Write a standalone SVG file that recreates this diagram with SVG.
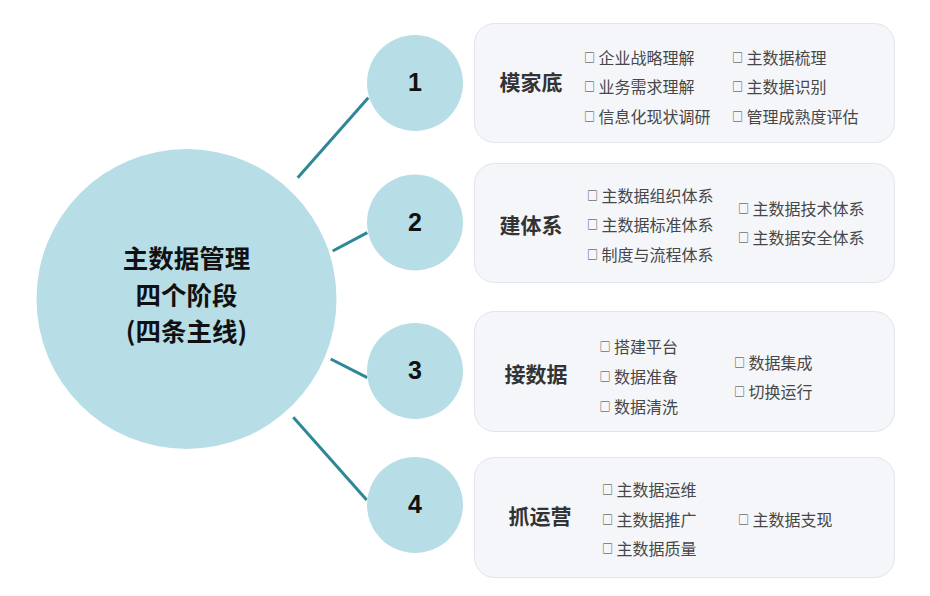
<svg xmlns="http://www.w3.org/2000/svg" width="930" height="596" viewBox="0 0 930 596">
<style>
text{font-family:"Noto Sans CJK SC","Liberation Sans",sans-serif;dominant-baseline:central}
.hub{fill:#b7dde7}
.num{font-family:"Liberation Sans","Noto Sans CJK SC",sans-serif;font-weight:bold;font-size:25px;fill:#111;text-anchor:middle}
.main{font-weight:bold;font-size:25.5px;fill:#111;text-anchor:middle}
.card{fill:#f5f6fa;stroke:#e1e4ec;stroke-width:1}
.title{font-weight:bold;font-size:21px;fill:#333;text-anchor:middle}
.item{font-size:16px;fill:#474747}
.b{font-size:11px;fill:#333}
.con{stroke:#2e8796;stroke-width:3;fill:none}
</style>
<g id="connectors">
<line class="con" x1="297.7" y1="177.7" x2="368.3" y2="97.7"/>
<line class="con" x1="332.7" y1="251" x2="367.3" y2="232.7"/>
<line class="con" x1="330.7" y1="359" x2="367.3" y2="377.7"/>
<line class="con" x1="293.3" y1="417.3" x2="366.7" y2="500"/>
</g>
<g id="center">
<circle class="hub" cx="186.5" cy="299" r="150"/>
<text class="main" x="186.5" y="256">主数据管理</text>
<text class="main" x="186.5" y="293">四个阶段</text>
<text class="main" x="186.5" y="329">(四条主线)</text>
</g>
<g id="n1"><circle class="hub" cx="415" cy="83" r="48"/><text class="num" x="415" y="82">1</text></g>
<g id="n2"><circle class="hub" cx="415" cy="222.5" r="48"/><text class="num" x="415" y="221.5">2</text></g>
<g id="n3"><circle class="hub" cx="415" cy="371" r="48"/><text class="num" x="415" y="370">3</text></g>
<g id="n4"><circle class="hub" cx="415" cy="505" r="48"/><text class="num" x="415" y="504">4</text></g>
<g id="card1">
<rect class="card" x="474.5" y="23.5" width="420" height="119" rx="20"/>
<text class="title" x="531" y="81">模家底</text>
<text class="item" x="584" y="57"><tspan class="b">□</tspan> 企业战略理解</text>
<text class="item" x="584" y="86"><tspan class="b">□</tspan> 业务需求理解</text>
<text class="item" x="584" y="116"><tspan class="b">□</tspan> 信息化现状调研</text>
<text class="item" x="732" y="57"><tspan class="b">□</tspan> 主数据梳理</text>
<text class="item" x="732" y="86"><tspan class="b">□</tspan> 主数据识别</text>
<text class="item" x="732" y="116"><tspan class="b">□</tspan> 管理成熟度评估</text>
</g>
<g id="card2">
<rect class="card" x="474.5" y="163.5" width="420" height="119" rx="20"/>
<text class="title" x="531" y="224">建体系</text>
<text class="item" x="587" y="194.7"><tspan class="b">□</tspan> 主数据组织体系</text>
<text class="item" x="587" y="223.7"><tspan class="b">□</tspan> 主数据标准体系</text>
<text class="item" x="587" y="253.7"><tspan class="b">□</tspan> 制度与流程体系</text>
<text class="item" x="738" y="208"><tspan class="b">□</tspan> 主数据技术体系</text>
<text class="item" x="738" y="237.3"><tspan class="b">□</tspan> 主数据安全体系</text>
</g>
<g id="card3">
<rect class="card" x="474.5" y="311.5" width="420" height="120" rx="20"/>
<text class="title" x="536" y="373">接数据</text>
<text class="item" x="599.5" y="346.3"><tspan class="b">□</tspan> 搭建平台</text>
<text class="item" x="599.5" y="375.7"><tspan class="b">□</tspan> 数据准备</text>
<text class="item" x="599.5" y="405.7"><tspan class="b">□</tspan> 数据清洗</text>
<text class="item" x="734" y="362"><tspan class="b">□</tspan> 数据集成</text>
<text class="item" x="734" y="391.3"><tspan class="b">□</tspan> 切换运行</text>
</g>
<g id="card4">
<rect class="card" x="474.5" y="457.5" width="420" height="120" rx="20"/>
<text class="title" x="540" y="515">抓运营</text>
<text class="item" x="602" y="488.7"><tspan class="b">□</tspan> 主数据运维</text>
<text class="item" x="602" y="518.7"><tspan class="b">□</tspan> 主数据推广</text>
<text class="item" x="602" y="548"><tspan class="b">□</tspan> 主数据质量</text>
<text class="item" x="738" y="518.7"><tspan class="b">□</tspan> 主数据支现</text>
</g>
</svg>
